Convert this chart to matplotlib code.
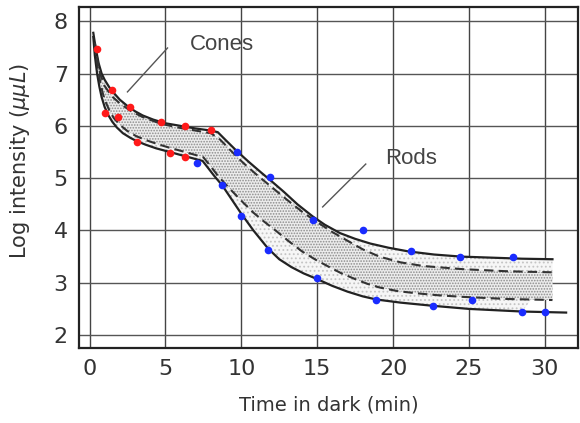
import matplotlib
matplotlib.use("Agg")
import matplotlib.pyplot as plt

# 暗适应曲线数据
# 上边界实线
upper_x = [0.25, 0.4, 0.6, 0.8, 1.0, 1.3, 1.6, 2.0, 2.5, 3.0, 3.5, 4.2, 5.0, 6.0, 7.0, 8.0,
           8.45, 9.0, 9.7, 10.5, 11.3, 12.0, 12.8, 13.7, 14.7, 15.5, 16.5, 17.5,
           18.5, 19.7, 21.0, 22.7, 24.5, 26.5, 28.5, 30.5]
upper_y = [7.78, 7.5, 7.2, 7.0, 6.88, 6.74, 6.63, 6.5, 6.38, 6.28, 6.2, 6.12, 6.05, 6.0, 5.95, 5.91,
           5.88, 5.72, 5.52, 5.31, 5.11, 4.94, 4.74, 4.5, 4.27, 4.11, 3.95, 3.84,
           3.75, 3.67, 3.6, 3.54, 3.5, 3.48, 3.46, 3.45]
# 下边界实线
lower_x = [0.25, 0.35, 0.5, 0.65, 0.8, 1.0, 1.25, 1.5, 1.8, 2.2, 2.7, 3.1, 3.7, 4.4, 5.3, 6.3,
           7.45, 7.8, 8.2, 8.75, 9.4, 10.0, 10.8, 11.75, 12.5, 13.3, 14.1, 15.0, 16.0, 17.0,
           18.0, 18.9, 20.5, 22.6, 25.0, 28.5, 31.4]
lower_y = [7.7, 7.35, 7.0, 6.75, 6.55, 6.36, 6.2, 6.08, 5.97, 5.86, 5.77, 5.71, 5.64, 5.57, 5.5, 5.42,
           5.33, 5.2, 5.05, 4.86, 4.58, 4.32, 4.0, 3.66, 3.45, 3.3, 3.18, 3.07, 2.94, 2.83,
           2.74, 2.68, 2.62, 2.56, 2.5, 2.45, 2.43]
# 内部两条虚线
dash_hi_x = [0.35, 0.5, 0.7, 1.0, 1.5, 2.0, 2.75, 3.5, 4.7, 6.0, 7.0, 8.0, 8.6, 9.3, 10.1,
             11.0, 12.0, 13.0, 14.0, 15.0, 16.0, 16.9, 18.0, 19.1, 20.5, 22.0, 24.6, 27.5, 30.5]
dash_hi_y = [7.6, 7.3, 7.0, 6.76, 6.56, 6.43, 6.28, 6.17, 6.04, 5.96, 5.91, 5.86, 5.74, 5.53, 5.3,
             5.07, 4.83, 4.59, 4.36, 4.16, 3.97, 3.82, 3.64, 3.5, 3.39, 3.32, 3.26, 3.22, 3.2]
dash_lo_x = [0.35, 0.5, 0.7, 0.85, 1.0, 1.3, 1.6, 2.0, 2.5, 3.1, 3.8, 4.5, 5.3, 6.3, 7.5,
             8.0, 8.5, 9.4, 10.1, 10.8, 11.5, 12.3, 13.1, 14.0, 14.9, 15.8, 16.6, 17.5, 18.3,
             19.1, 20.3, 21.5, 23.0, 24.6, 27.5, 30.5]
dash_lo_y = [7.55, 7.2, 6.85, 6.65, 6.5, 6.3, 6.15, 6.02, 5.9, 5.8, 5.72, 5.65, 5.58, 5.5, 5.4,
             5.22, 5.03, 4.75, 4.54, 4.34, 4.17, 3.99, 3.8, 3.6, 3.44, 3.3, 3.18, 3.07, 2.98,
             2.91, 2.84, 2.8, 2.76, 2.73, 2.69, 2.67]
# 视锥细胞测量点 (红)
cone_x = [0.47, 1.5, 2.7, 4.7, 6.3, 8.0, 1.05, 1.85, 3.1, 5.3, 6.3]
cone_y = [7.47, 6.68, 6.36, 6.07, 6.0, 5.92, 6.24, 6.17, 5.69, 5.48, 5.4]
# 视杆细胞测量点 (蓝)
rod_x = [7.1, 9.7, 11.9, 8.75, 10.0, 11.75, 14.7, 18.0, 21.2, 24.4, 27.9,
         15.0, 18.9, 22.6, 25.2, 28.5, 30.0]
rod_y = [5.29, 5.5, 5.02, 4.87, 4.27, 3.63, 4.2, 4.0, 3.6, 3.49, 3.49,
         3.1, 2.67, 2.56, 2.67, 2.44, 2.44]
x_ticks = [0, 5, 10, 15, 20, 25, 30]
y_ticks = [2, 3, 4, 5, 6, 7, 8]

plt.rcParams['hatch.linewidth'] = 0.8
plt.rcParams['font.family'] = ['DejaVu Sans']

fig = plt.figure(figsize=(5.8, 4.23), dpi=100)
ax = fig.add_axes([0.136, 0.177, 0.861, 0.806])

# 网格
for v in x_ticks:
    ax.axvline(v, color='#444444', lw=1.0, zorder=0)
for v in y_ticks:
    ax.axhline(v, color='#555555', lw=1.0, zorder=0)

# 点状阴影带
ax.fill(upper_x + dash_lo_x[::-1], upper_y + dash_lo_y[::-1],
        facecolor='#f6f6f6', edgecolor='#c4c4c4', hatch='....', linewidth=0, zorder=1)
ax.fill(dash_hi_x + lower_x[:-1][::-1], dash_hi_y + lower_y[:-1][::-1],
        facecolor='#f6f6f6', edgecolor='#c4c4c4', hatch='....', linewidth=0, zorder=1)
ax.fill(dash_hi_x + dash_lo_x[::-1], dash_hi_y + dash_lo_y[::-1],
        facecolor='#ececec', edgecolor='#8c8c8c', hatch='......', linewidth=0, zorder=1)

ax.plot(upper_x, upper_y, color='#222222', lw=1.6, zorder=2)
ax.plot(lower_x, lower_y, color='#222222', lw=1.6, zorder=2)
ax.plot(dash_hi_x, dash_hi_y, color='#333333', lw=1.5, ls=(0, (4.5, 2.5)), zorder=2)
ax.plot(dash_lo_x, dash_lo_y, color='#333333', lw=1.5, ls=(0, (4.5, 2.5)), zorder=2)

ax.plot(cone_x, cone_y, 'o', color='#ff1a1a', ms=5.5, mew=0, zorder=3)
ax.plot(rod_x, rod_y, 'o', color='#1a2cff', ms=5.5, mew=0, zorder=3)

# 标注
ax.plot([5.14, 2.5], [7.49, 6.65], color='#555555', lw=1.0)
ax.text(8.7, 7.55, 'Cones', fontsize=16, color='#444444', ha='center', va='center',
        family=['Liberation Sans', 'DejaVu Sans'])
ax.plot([18.2, 15.36], [5.27, 4.45], color='#555555', lw=1.0)
ax.text(21.2, 5.37, 'Rods', fontsize=16, color='#444444', ha='center', va='center',
        family=['Liberation Sans', 'DejaVu Sans'])

ax.set_xlim(-0.7, 32.2)
ax.set_ylim(1.75, 8.27)
ax.set_xticks(x_ticks)
ax.set_yticks(y_ticks)
ax.tick_params(length=0, labelsize=16, labelcolor='#333333', pad=8)
for s in ax.spines.values():
    s.set_linewidth(1.6)
    s.set_color('#222222')

ax.set_xlabel('Time in dark (min)', fontsize=14, color='#333333', labelpad=12)
ax.set_ylabel('Log intensity ($\\mu\\mu L$)', fontsize=15, color='#333333')
ax.yaxis.set_label_coords(-0.094, 0.55)

plt.savefig('out.png', dpi=100)
